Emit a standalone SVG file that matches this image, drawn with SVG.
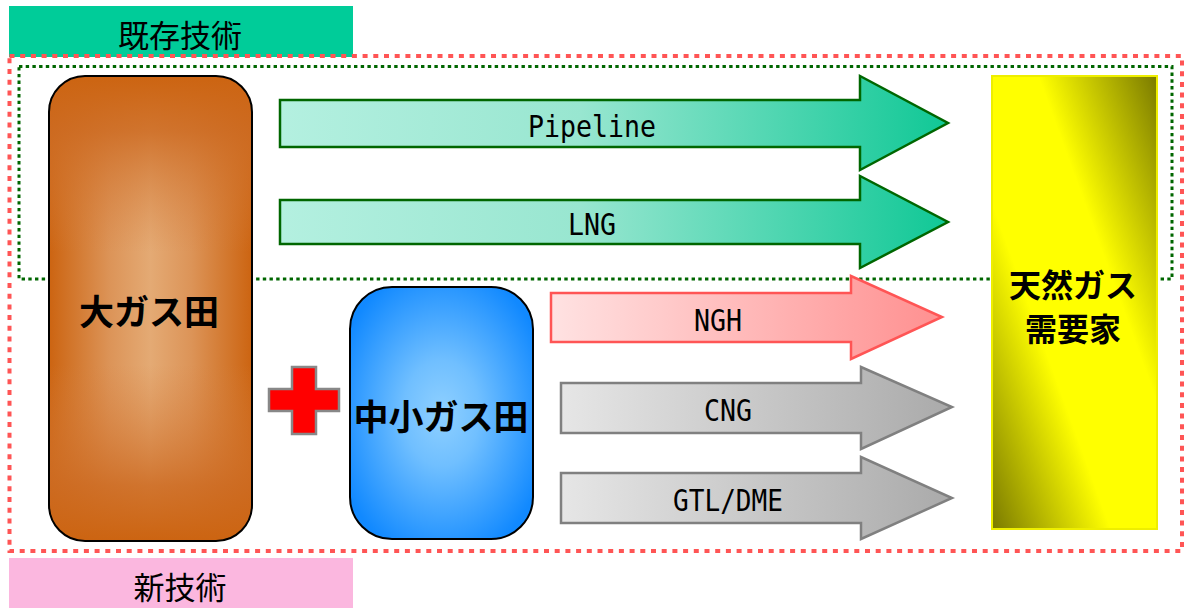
<svg xmlns="http://www.w3.org/2000/svg" width="1184" height="608" viewBox="0 0 1184 608">
  <style>
    .jp { font-family: "Noto Sans CJK JP", "Noto Sans", sans-serif; fill: #000; }
    .tag { font-size: 31px; font-weight: normal; text-anchor: middle; }
    .node { font-size: 35px; font-weight: bold; text-anchor: middle; }
    .node-sm { font-size: 32px; font-weight: bold; text-anchor: middle; }
    .lbl { font-family: "DejaVu Sans Mono", "Liberation Mono", monospace; font-size: 31px; text-anchor: middle; fill: #000; }
  </style>
  <defs>
    <linearGradient id="gBrownH" x1="0" y1="0" x2="1" y2="0">
      <stop offset="0" stop-color="#cc6411"/>
      <stop offset="0.3" stop-color="#dc9458"/>
      <stop offset="0.5" stop-color="#e4aa74"/>
      <stop offset="0.7" stop-color="#dc9458"/>
      <stop offset="1" stop-color="#cc6411"/>
    </linearGradient>
    <linearGradient id="gBrownV" x1="0" y1="0" x2="0" y2="1">
      <stop offset="0" stop-color="#cc6411" stop-opacity="1"/>
      <stop offset="0.12" stop-color="#cd6b22" stop-opacity="0.85"/>
      <stop offset="0.38" stop-color="#d68040" stop-opacity="0"/>
      <stop offset="0.62" stop-color="#d68040" stop-opacity="0"/>
      <stop offset="0.88" stop-color="#cd6b22" stop-opacity="0.85"/>
      <stop offset="1" stop-color="#cc6411" stop-opacity="1"/>
    </linearGradient>
    <radialGradient id="gBlue" cx="0.5" cy="0.5" r="0.6">
      <stop offset="0" stop-color="#8fd0ff"/>
      <stop offset="0.35" stop-color="#70bfff"/>
      <stop offset="1" stop-color="#1189ff"/>
    </radialGradient>
    <linearGradient id="gYellow" x1="1" y1="0" x2="0" y2="1">
      <stop offset="0" stop-color="#7a7a00"/>
      <stop offset="0.36" stop-color="#ffff00"/>
      <stop offset="0.64" stop-color="#ffff00"/>
      <stop offset="1" stop-color="#7a7a00"/>
    </linearGradient>
    <linearGradient id="gGreen" x1="0" y1="0" x2="1" y2="0">
      <stop offset="0" stop-color="#b4f0e0"/>
      <stop offset="0.45" stop-color="#98e6d0"/>
      <stop offset="1" stop-color="#10c896"/>
    </linearGradient>
    <linearGradient id="gRed" x1="0" y1="0" x2="1" y2="0">
      <stop offset="0" stop-color="#ffe2e2"/>
      <stop offset="1" stop-color="#ff9090"/>
    </linearGradient>
    <linearGradient id="gGray" x1="0" y1="0" x2="1" y2="0">
      <stop offset="0" stop-color="#e6e6e6"/>
      <stop offset="1" stop-color="#aaaaaa"/>
    </linearGradient>
  </defs>

  <!-- section labels -->
  <g id="label-existing">
    <rect x="9" y="6" width="344" height="51" fill="#00cc99"/>
    <text class="jp tag" x="180" y="47">既存技術</text>
  </g>
  <g id="label-new">
    <rect x="9" y="558" width="344" height="50" fill="#fbb7df"/>
    <text class="jp tag" x="180" y="599">新技術</text>
  </g>

  <!-- grouping frames -->
  <g id="frames" fill="none">
    <rect x="9.5" y="56" width="1172.5" height="495" stroke="#ff5555" stroke-width="4" stroke-dasharray="5 5.7"/>
    <rect x="19" y="66.5" width="1153" height="212.5" stroke="#006600" stroke-width="3" stroke-dasharray="3.4 3.3"/>
  </g>

  <!-- large gas field -->
  <g id="node-large-field">
    <rect x="49" y="76" width="203" height="465" rx="36" fill="url(#gBrownH)"/>
    <rect x="49" y="76" width="203" height="465" rx="36" fill="url(#gBrownV)" stroke="#000" stroke-width="2"/>
    <text class="jp node" x="149" y="325">大ガス田</text>
  </g>

  <!-- plus sign -->
  <g id="plus">
    <path d="M292,367 H316 V389 H339 V411 H316 V434 H292 V411 H269 V389 H292 Z" fill="#ff0000" stroke="#888888" stroke-width="2.5"/>
  </g>

  <!-- small and medium gas fields -->
  <g id="node-small-field">
    <rect x="350" y="287" width="183" height="252" rx="42" fill="url(#gBlue)" stroke="#000" stroke-width="2"/>
    <text class="jp node" x="441" y="430">中小ガス田</text>
  </g>

  <!-- natural gas consumers -->
  <g id="node-consumers">
    <rect x="992" y="76" width="165" height="453" fill="url(#gYellow)" stroke="#eeee00" stroke-width="2"/>
    <text class="jp node-sm" x="1073" y="297">天然ガス</text>
    <text class="jp node-sm" x="1073" y="341">需要家</text>
  </g>

  <!-- transport routes -->
  <g id="connectors" stroke-width="2.5" stroke-linejoin="miter">
    <g id="route-pipeline">
      <polygon points="280,100 860,100 860,76 948,123 860,170 860,147 280,147" fill="url(#gGreen)" stroke="#006600"/>
      <text class="lbl" x="592" y="137" textLength="128" lengthAdjust="spacingAndGlyphs">Pipeline</text>
    </g>
    <g id="route-lng">
      <polygon points="280,200 860,200 860,176 948,222 860,268 860,244 280,244" fill="url(#gGreen)" stroke="#006600"/>
      <text class="lbl" x="592" y="235" textLength="48" lengthAdjust="spacingAndGlyphs">LNG</text>
    </g>
    <g id="route-ngh">
      <polygon points="551,293 851,293 851,276 942,317 851,359 851,342 551,342" fill="url(#gRed)" stroke="#ff5555"/>
      <text class="lbl" x="718" y="331" textLength="48" lengthAdjust="spacingAndGlyphs">NGH</text>
    </g>
    <g id="route-cng">
      <polygon points="561,383 861,383 861,367 952,407 861,449 861,433 561,433" fill="url(#gGray)" stroke="#808080"/>
      <text class="lbl" x="728" y="421" textLength="48" lengthAdjust="spacingAndGlyphs">CNG</text>
    </g>
    <g id="route-gtl">
      <polygon points="561,473 861,473 861,457 952,498 861,539 861,523 561,523" fill="url(#gGray)" stroke="#808080"/>
      <text class="lbl" x="728" y="511" textLength="110" lengthAdjust="spacingAndGlyphs">GTL/DME</text>
    </g>
  </g>
</svg>
